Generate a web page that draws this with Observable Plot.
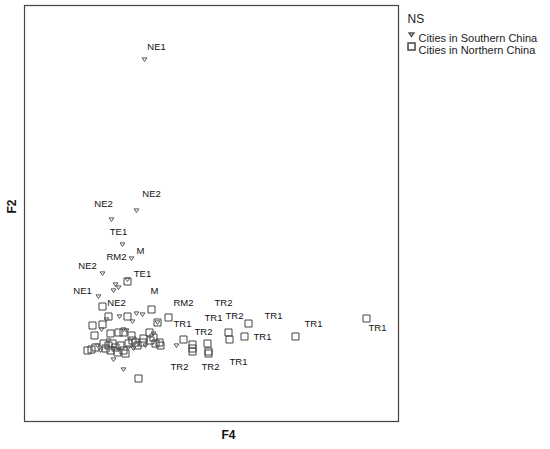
<!DOCTYPE html>
<html><head><meta charset="utf-8">
<script src="https://cdn.jsdelivr.net/npm/d3@7"></script>
<script src="https://cdn.jsdelivr.net/npm/@observablehq/plot@0.6"></script>
<style>body{margin:0;background:#fff;font-family:"Liberation Sans",Arial,sans-serif;}</style>
</head><body><div id="chart"></div>
<script>
// Cities in Southern China (F4, F2)
const southF4 = [0.725,0.525,-0.1,0.175,0.4,-0.325,0.3,0,0.075,-0.05,-0.425,-0.225,0.1,0.425,0.525,0.675,1.05,-0.35,0.2,0.95,1.525,-0.45,-0.375,-0.05,0.075,0.325,0.575,0.75,-0.05,0.2,0.275,-0.175,0.45];
const southF2 = [7.15,3.375,3.15,2.525,2.175,1.8,1.65,1.525,1.45,1.375,1.225,0.65,0.725,0.6,0.8,0.775,0.575,0.4,0.4,0.3,0,0,-0.125,-0.075,-0.1,-0.05,0.05,0,-0.35,-0.6,0.375,0.125,-0.075];
// Cities in Northern China (F4, F2)
const northF4 = [0.3,-0.325,-0.175,0.3,0.9,1.05,1.325,-0.575,-0.325,-0.125,0.075,0.2,-0.525,0.4,0.85,0.95,1.1,-0.7,-0.6,-0.5,-0.3,-0.175,-0.075,0,0.125,0.2,0.05,-0.125,-0.25,0.425,0.5,0.55,0.675,0.7,0.875,1.0,0.25,0.575,1.7,1.925,1.925,1.925,2.3,2.325,2.325,2.825,2.85,3.225,3.325,4.5,6.275,0.325,1.125];
const northF2 = [1.6,0.975,0.725,0.725,0.9,0.575,0.7,0.5,0.525,0.3,0.325,0.325,0.25,0.25,0.325,0.2,0.075,-0.125,-0.1,-0.05,0.05,0,0.05,-0.05,0,-0.125,-0.175,-0.125,-0.075,0.125,0.075,0,0.075,0.175,0.125,0.05,-0.2,-0.825,0.15,0.025,-0.075,-0.15,0.05,-0.15,-0.2,0.325,0.15,0.225,0.55,0.225,0.675,0.05,0];
// Point labels
const labelText = ["NE1","NE2","NE2","TE1","M","RM2","NE2","TE1","NE1","M","NE2","RM2","TR2","TR1","TR1","TR2","TR1","TR1","TR1","TR2","TR1","TR2","TR2","TR1"];
const labelF4 = [1.025,0.9,-0.3,0.075,0.625,0.025,-0.7,0.675,-0.825,0.975,0.025,1.7,2.7,1.675,2.45,2.975,3.95,4.95,6.55,2.2,3.675,1.6,2.375,3.075];
const labelF2 = [7.475,3.8,3.55,2.85,2.375,2.225,2.0,1.8,1.375,1.375,1.075,1.075,1.075,0.55,0.7,0.75,0.75,0.55,0.45,0.35,0.225,-0.525,-0.525,-0.4];
const groups = ["Cities in Southern China","Cities in Northern China"];
const legendTitle = "NS";

const south = southF4.map((x,i)=>({F4:x,F2:southF2[i]}));
const north = northF4.map((x,i)=>({F4:x,F2:northF2[i]}));
const labels = labelText.map((t,i)=>({t,F4:labelF4[i],F2:labelF2[i]}));

const triDown = {draw(ctx){ctx.moveTo(-2.4,-1.6);ctx.lineTo(2.4,-1.6);ctx.lineTo(0,2.0);ctx.closePath();}};
const square = {draw(ctx){ctx.rect(-3.5,-3.5,7,7);}};
const font = "Liberation Sans, Arial, sans-serif";

const chart = Plot.plot({
  width: 550, height: 449,
  marginLeft: 24, marginRight: 152, marginTop: 5, marginBottom: 28,
  style: {fontFamily: font, background: "#fff"},
  x: {domain: [-2.275, 7.075], axis: null},
  y: {domain: [-1.9, 8.5], axis: null},
  marks: [
    Plot.frame({stroke: "#444", strokeWidth: 1.2}),
    Plot.dot(north, {x: "F4", y: "F2", symbol: square, fill: "none", stroke: "#444", strokeWidth: 1}),
    Plot.dot(south, {x: "F4", y: "F2", symbol: triDown, fill: "none", stroke: "#555", strokeWidth: 1}),
    Plot.text(labels, {x: "F4", y: "F2", text: "t", fontSize: 9.5, fill: "#111"}),
    Plot.text(["F4"], {frameAnchor: "bottom", dx: 17, dy: 17, fontSize: 12, fontWeight: "bold", fill: "#111"}),
    Plot.text(["F2"], {frameAnchor: "left", dx: -12, rotate: -90, fontSize: 12, fontWeight: "bold", fill: "#111"}),
    Plot.text([legendTitle], {frameAnchor: "top-right", dx: 9, dy: 9, textAnchor: "start", fontSize: 12, fill: "#222"}),
    Plot.dot([groups[0]], {frameAnchor: "top-right", dx: 13, dy: 29, symbol: triDown, fill: "none", stroke: "#555"}),
    Plot.dot([groups[1]], {frameAnchor: "top-right", dx: 13, dy: 41, symbol: square, fill: "none", stroke: "#444"}),
    Plot.text([groups[0]], {frameAnchor: "top-right", dx: 20, dy: 29, textAnchor: "start", fontSize: 11, fill: "#222"}),
    Plot.text([groups[1]], {frameAnchor: "top-right", dx: 20, dy: 41, textAnchor: "start", fontSize: 11, fill: "#222"})
  ]
});
document.getElementById("chart").appendChild(chart);
</script></body></html>
